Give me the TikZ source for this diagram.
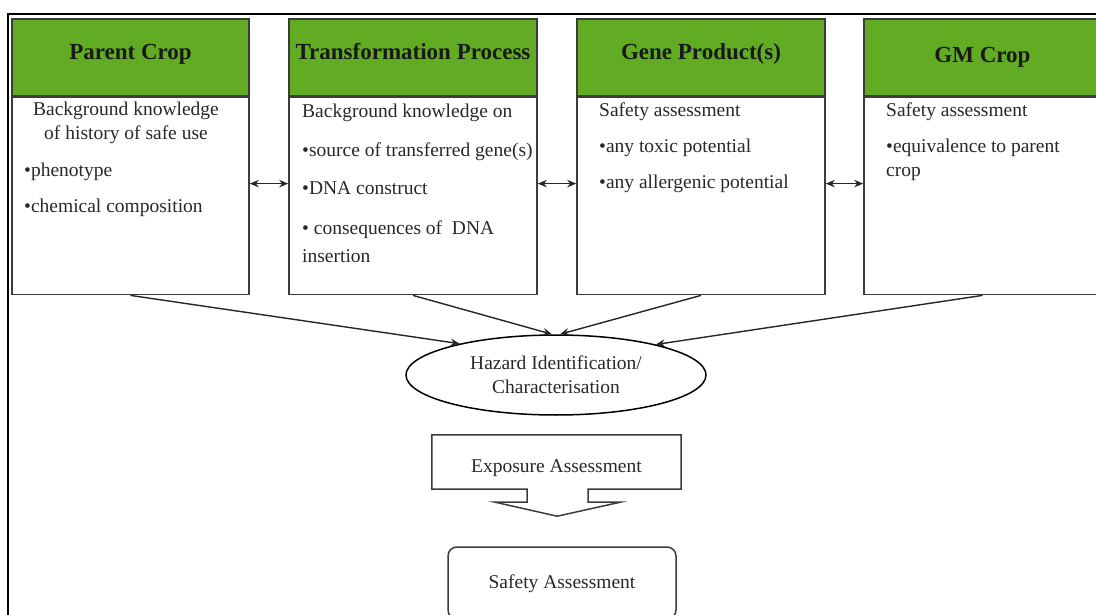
\documentclass[tikz,border=0pt]{standalone}
\usepackage{fontspec}
\setmainfont{Liberation Serif}
\usetikzlibrary{positioning,shapes.geometric,arrows.meta}

\definecolor{cropgreen}{RGB}{98,172,36}
\definecolor{boxgray}{RGB}{60,60,60}
\definecolor{textgray}{RGB}{40,40,40}

\newcommand\headfont{\fontsize{23}{27}\selectfont\bfseries}
\newcommand\bodyfont{\fontsize{19.5}{24}\selectfont}

\tikzset{
  head/.style={draw=boxgray, fill=cropgreen, line width=1.6pt, minimum height=77pt,
    inner sep=0pt, font=\headfont, text=black!90, text height=16pt, text depth=12pt},
  body/.style={draw=boxgray, line width=1.6pt, minimum height=197pt, inner sep=0pt},
  txt/.style={inner sep=0pt, anchor=base west, font=\bodyfont, text=textgray},
  link/.style={line width=1.4pt, black!85},
}

\begin{document}
\begin{tikzpicture}[x=1pt, y=-1pt, >={Stealth[length=9pt,width=7.5pt]}]
  \useasboundingbox (0,0) rectangle (1096,615);
  % Frame
  \draw[line width=2.2pt] (1110,630) |- (8,14) -- (8,630);

  % Parent crop
  \node[head, minimum width=237pt] (pcHead) at (130.5,57.5) {Parent Crop};
  \node[body, minimum width=237pt, below=0pt of pcHead] (pcBody) {};
  \node[txt, anchor=base] (pcT1) at (126,116) {Background knowledge};
  \node[txt, anchor=base] (pcT2) at (126,140) {of history of safe use};
  \node[txt] (pcT3) at (24,177) {•phenotype};
  \node[txt] (pcT4) at (24,213) {•chemical composition};

  % Transformation process
  \node[head, minimum width=248pt] (tpHead) at (413,57.5) {Transformation Process};
  \node[body, minimum width=248pt, below=0pt of tpHead] (tpBody) {};
  \node[txt] (tpT1) at (302,118) {Background knowledge on};
  \node[txt] (tpT2) at (302,157) {•source of transferred gene(s)};
  \node[txt] (tpT3) at (302,195) {•DNA construct};
  \node[txt] (tpT4) at (302,235) {• consequences of\ \ DNA};
  \node[txt] (tpT5) at (302,262) {insertion};

  % Gene products
  \node[head, minimum width=248pt] (gpHead) at (701,57.5) {Gene Product(s)};
  \node[body, minimum width=248pt, below=0pt of gpHead] (gpBody) {};
  \node[txt] (gpT1) at (599,117) {Safety assessment};
  \node[txt] (gpT2) at (599,153) {•any toxic potential};
  \node[txt] (gpT3) at (599,189) {•any allergenic potential};

  % GM crop
  \node[head, minimum width=237pt, text depth=5pt] (gmHead) at (982.5,57.5) {GM Crop};
  \node[body, minimum width=237pt, below=0pt of gmHead] (gmBody) {};
  \node[txt] (gmT1) at (886,117) {Safety assessment};
  \node[txt] (gmT2) at (886,153) {•equivalence to parent};
  \node[txt] (gmT3) at (886,177) {crop};

  % Links between the columns
  \draw[link, <->] ([yshift=12.5pt]pcBody.east) -- ([yshift=12.5pt]tpBody.west);
  \draw[link, <->] ([yshift=12.5pt]tpBody.east) -- ([yshift=12.5pt]gpBody.west);
  \draw[link, <->] ([yshift=12.5pt]gpBody.east) -- ([yshift=12.5pt]gmBody.west);

  % Hazard step
  \node[ellipse, draw, line width=1.5pt, minimum width=300pt, minimum height=80pt,
    inner sep=0pt, align=center, font=\bodyfont, text=textgray] (hazard) at (556,375)
    {Hazard Identification/\\Characterisation};
  \draw[link, ->] (pcBody.south) -- (hazard.162);
  \draw[link, ->] (tpBody.south) -- ([xshift=-4pt]hazard.north);
  \draw[link, ->] (gpBody.south) -- ([xshift=4pt]hazard.north);
  \draw[link, ->] (gmBody.south) -- (hazard.17);

  % Exposure step (box with arrow underneath)
  \node[minimum width=249pt, minimum height=54pt, inner sep=0pt, font=\bodyfont,
    text=textgray, text height=24pt, text depth=4pt] (expo) at (556.5,462)
    {Exposure Assessment};
  \draw[line width=1.5pt, boxgray, line join=miter]
    (expo.north west) -- (expo.north east) -- (expo.south east) -- ++(-93,0)
    -- ++(0,13) -- ++(32,0) -- ++(-63,14) -- ++(-62,-14) -- ++(32,0)
    -- ++(0,-13) -- (expo.south west) -- cycle;

  % Safety step
  \node[draw=boxgray, line width=1.5pt, rounded corners=9pt, minimum width=228pt,
    minimum height=72pt, inner sep=0pt, font=\bodyfont, text=textgray,
    text height=15pt, text depth=5pt] (safety) at (562,583) {Safety Assessment};
\end{tikzpicture}
\end{document}
